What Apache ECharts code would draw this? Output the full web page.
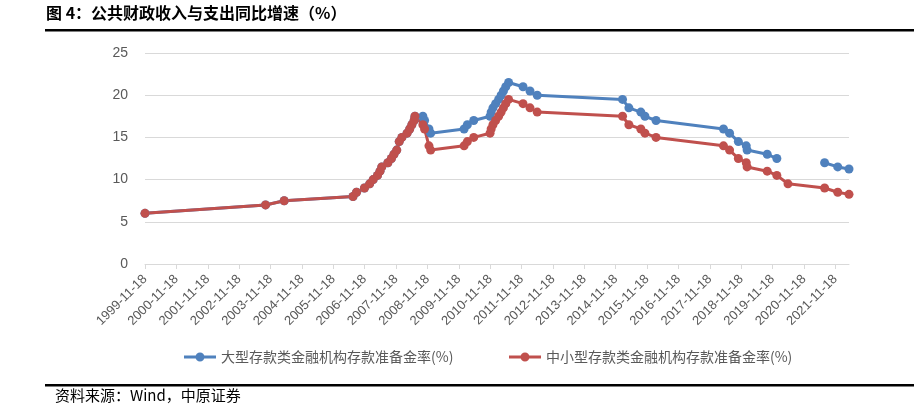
<!DOCTYPE html>
<html>
<head>
<meta charset="utf-8">
<script src="https://cdn.jsdelivr.net/npm/echarts@6/dist/echarts.min.js"></script>
<style>
html,body{margin:0;padding:0;background:#fff;}
#chart{width:923px;height:404px;}
</style>
</head>
<body>
<div id="chart"></div>
<script>
// ---- data ----
const startDate = '1999-11-18';
const dates = [
 '1999-11-18','2003-09-21','2004-04-25','2006-07-05','2006-08-15','2006-11-15',
 '2007-01-15','2007-02-25','2007-04-16','2007-05-15','2007-06-05','2007-08-15',
 '2007-09-25','2007-10-25','2007-11-26','2007-12-25','2008-01-25','2008-03-25',
 '2008-04-25','2008-05-20','2008-06-15','2008-06-25','2008-09-25','2008-10-15',
 '2008-12-05','2008-12-25','2010-01-18','2010-02-25','2010-05-10','2010-11-16',
 '2010-11-29','2010-12-20','2011-01-20','2011-02-24','2011-03-25','2011-04-21',
 '2011-05-18','2011-06-20','2011-12-05','2012-02-24','2012-05-18','2015-02-05',
 '2015-04-20','2015-09-06','2015-10-24','2016-03-01','2018-04-25','2018-07-05',
 '2018-10-15','2019-01-15','2019-01-25','2019-09-16','2020-01-06','2020-05-15',
 '2021-07-15','2021-12-15','2022-04-25'
];
const largeRRR = [
 6,7,7.5,8,8.5,9,
 9.5,10,10.5,11,11.5,12,
 12.5,13,13.5,14.5,15,15.5,
 16,16.5,17,17.5,17.5,17,
 16,15.5,16,16.5,17,17.5,
 18,18.5,19,19.5,20,20.5,
 21,21.5,21,20.5,20,19.5,
 18.5,18,17.5,17,16,15.5,
 14.5,14,13.5,13,12.5,null,
 12,11.5,11.25
];
const smallRRR = [
 6,7,7.5,8,8.5,9,
 9.5,10,10.5,11,11.5,12,
 12.5,13,13.5,14.5,15,15.5,
 16,16.5,17,17.5,16.5,16,
 14,13.5,14,14.5,15,15.5,
 16,16.5,17,17.5,18,18.5,
 19,19.5,19,18.5,18,17.5,
 16.5,16,15.5,15,14,13.5,
 12.5,12,11.5,11,10.5,9.5,
 9,8.5,8.25
];
const tickLabels = [
 '1999-11-18','2000-11-18','2001-11-18','2002-11-18','2003-11-18','2004-11-18',
 '2005-11-18','2006-11-18','2007-11-18','2008-11-18','2009-11-18','2010-11-18',
 '2011-11-18','2012-11-18','2013-11-18','2014-11-18','2015-11-18','2016-11-18',
 '2017-11-18','2018-11-18','2019-11-18','2020-11-18','2021-11-18'
];
const seriesNames = ['大型存款类金融机构存款准备金率(%)','中小型存款类金融机构存款准备金率(%)'];
const titleText = '图 4：公共财政收入与支出同比增速（%）';
const sourceText = '资料来源：Wind，中原证券';

// ---- build ----
const DAY = 86400000;
const t0 = Date.parse(startDate);
const dayOf = d => (Date.parse(d) - t0) / DAY;
const xDays = dates.map(dayOf);
const tickDays = tickLabels.map(d => dayOf(d));
const pairs = arr => xDays.map((x, i) => [x, arr[i]]);

const grey = '#595959';
const chart = echarts.init(document.getElementById('chart'), null, {renderer: 'canvas'});
const lineSeries = (name, data, color) => ({
  name, type: 'line', data,
  lineStyle: {width: 3, color},
  itemStyle: {color},
  symbol: 'circle', symbolSize: 9,
  showAllSymbol: true,
  connectNulls: false,
  emphasis: {disabled: true},
  animation: false
});
const legendIcon = 'path://M0,3.5L32,3.5L32,6.5L0,6.5Z M11.5,5A4.5,4.5,0,1,1,20.5,5A4.5,4.5,0,1,1,11.5,5Z';
const legendBase = {
  itemWidth: 32, itemHeight: 9, itemGap: 4,
  icon: legendIcon,
  textStyle: {color: grey, fontSize: 14, fontFamily: '"Noto Sans CJK SC"'}
};

chart.setOption({
  animation: false,
  textStyle: {fontFamily: 'Liberation Sans, "Noto Sans CJK SC", sans-serif'},
  grid: {left: 145, right: 74, top: 53, bottom: 140},
  xAxis: {
    type: 'value',
    min: 0,
    max: xDays[xDays.length - 1],
    axisLine: {show: true, lineStyle: {color: '#d9d9d9', width: 1}},
    axisTick: {show: true, length: 5, lineStyle: {color: '#d9d9d9'}, customValues: tickDays},
    axisLabel: {
      rotate: 45, color: grey, fontSize: 13, margin: 13,
      customValues: tickDays,
      formatter: v => {
        const i = tickDays.findIndex(t => Math.abs(t - v) < 1);
        return i >= 0 ? tickLabels[i] : '';
      }
    },
    splitLine: {show: false}
  },
  yAxis: {
    type: 'value', min: 0, max: 25, interval: 5,
    axisLine: {show: false}, axisTick: {show: false},
    axisLabel: {color: grey, fontSize: 14, margin: 17},
    splitLine: {lineStyle: {color: '#d9d9d9', width: 1}}
  },
  legend: [
    Object.assign({data: [seriesNames[0]], left: 179, top: 345}, legendBase),
    Object.assign({data: [seriesNames[1]], left: 504, top: 345}, legendBase)
  ],
  series: [
    lineSeries(seriesNames[0], pairs(largeRRR), '#4F81BD'),
    lineSeries(seriesNames[1], pairs(smallRRR), '#C0504D')
  ],
  graphic: [
    {type: 'text', left: 46, top: 5, style: {text: titleText, fill: '#000', font: 'bold 16px "Noto Sans CJK SC"'}},
    {type: 'rect', shape: {x: 45, y: 29, width: 869, height: 2.5}, style: {fill: '#000'}},
    {type: 'rect', shape: {x: 45, y: 384, width: 869, height: 2.5}, style: {fill: '#000'}},
    {type: 'text', left: 55, top: 388, style: {text: sourceText, fill: '#000', font: '15px "Noto Sans CJK SC"'}}
  ]
});
</script>
</body>
</html>
